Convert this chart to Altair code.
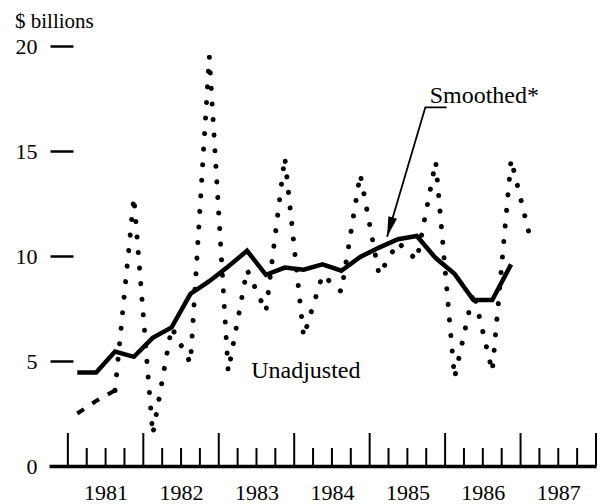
import altair as alt
import pandas as pd

FONT = "Liberation Serif"

# ---- data ----
quarters = [
    "1981Q1", "1981Q2", "1981Q3", "1981Q4",
    "1982Q1", "1982Q2", "1982Q3", "1982Q4",
    "1983Q1", "1983Q2", "1983Q3", "1983Q4",
    "1984Q1", "1984Q2", "1984Q3", "1984Q4",
    "1985Q1", "1985Q2", "1985Q3", "1985Q4",
    "1986Q1", "1986Q2", "1986Q3", "1986Q4",
    "1987Q1",
]
unadjusted = [2.5, 3.1, 3.6, 12.8, 1.5, 6.6, 4.9, 19.5, 4.5, 9.35, 7.35, 14.7,
              6.15, 9.1, 8.3, 13.9, 9.1, 10.65, 9.8, 14.5, 4.2, 8.3, 4.5, 14.6,
              10.9]
smoothed = [4.45, 4.45, 5.45, 5.2, 6.1, 6.6, 8.2, 8.8, 9.5, 10.25, 9.1, 9.45,
            9.35, 9.6, 9.3, 9.95, 10.4, 10.8, 10.95, 9.9, 9.15, 7.9, 7.9, 9.6]
dashed_quarters = 3          # first quarters drawn as a dashed (estimated) line

year_labels = [1981, 1982, 1983, 1984, 1985, 1986, 1987]
year_ticks = [1981, 1982, 1983, 1984, 1985, 1986, 1987, 1988]
y_ticks = [0, 5, 10, 15, 20]

unadj_label = "Unadjusted"
smooth_label = "Smoothed*"
unit_label = "$ billions"


def qpos(label):
    return int(label[:4]) + (int(label[-1]) - 0.5) / 4


unadj_df = pd.DataFrame({"x": [qpos(q) for q in quarters], "v": unadjusted})
dashed_df = unadj_df.iloc[:dashed_quarters]
dotted_df = unadj_df.iloc[dashed_quarters - 1:]
smooth_df = pd.DataFrame({"x": [qpos(q) for q in quarters[:len(smoothed)]],
                          "v": smoothed})
tall_df = pd.DataFrame({"x": year_ticks})
short_df = pd.DataFrame({"x": [y + q / 4 for y in year_ticks[:-1] for q in (1, 2, 3)]})

# annotation anchors (data units)
text_df = pd.DataFrame({"x": [1983.43, 1985.795], "v": [4.18, 17.27],
                        "t": [unadj_label, smooth_label]})
leader_df = pd.DataFrame({"x": [1986.02, 1985.738, 1985.231],
                          "v": [17.08, 17.08, 10.92], "o": [0, 1, 2]})
arrow_df = pd.DataFrame({"x": [1985.268], "v": [11.376]})

# ---- scales / axes ----
xscale = alt.Scale(domain=[1980.75, 1988.0], nice=False, zero=False)
yscale = alt.Scale(domain=[0, 20], nice=False, zero=False)

xaxis = alt.Axis(values=[y + 0.5 for y in year_labels], labelExpr="floor(datum.value)",
                 ticks=False, tickSize=0, grid=False, title=None,
                 domain=True, domainColor="black", domainWidth=3.5,
                 labelFont=FONT, labelFontSize=22, labelColor="black",
                 labelPadding=16, labelBaseline="top", labelFlush=False)
yaxis = alt.Axis(values=y_ticks, grid=False, domain=False, title=None,
                 tickSize=23, tickWidth=2.5, tickColor="black", offset=-24,
                 labelPadding=13, labelFont=FONT, labelFontSize=22,
                 labelColor="black", labelBaseline="middle")

x_enc = alt.X("x:Q", scale=xscale, axis=xaxis)
y_enc = alt.Y("v:Q", scale=yscale, axis=yaxis)

tall = alt.Chart(tall_df).mark_rule(color="black", strokeWidth=2).encode(
    x=x_enc, y=alt.value(387), y2=alt.value(420))
short = alt.Chart(short_df).mark_rule(color="black", strokeWidth=2).encode(
    x=x_enc, y=alt.value(402), y2=alt.value(420))

dashed = alt.Chart(dashed_df).mark_line(
    color="black", strokeWidth=4, strokeDash=[8, 10]).encode(x=x_enc, y=y_enc)
dotted = alt.Chart(dotted_df).mark_line(
    color="black", strokeWidth=5, strokeDash=[0.1, 15.5], strokeCap="round").encode(
    x=x_enc, y=y_enc)
smooth = alt.Chart(smooth_df).mark_line(
    color="black", strokeWidth=4.5).encode(x=x_enc, y=y_enc)

leader = alt.Chart(leader_df).mark_line(color="black", strokeWidth=1.8).encode(
    x=x_enc, y=y_enc, order=alt.Order("o:Q"))
arrow = alt.Chart(arrow_df).mark_point(
    shape="M0,-1L0.45,1L-0.45,1Z", size=400, angle=196.5, filled=True,
    color="black", opacity=1, strokeWidth=0).encode(x=x_enc, y=y_enc)

labels = alt.Chart(text_df).mark_text(
    align="left", baseline="alphabetic", font=FONT, fontSize=24, color="black").encode(
    x=x_enc, y=y_enc, text="t:N")

unit = alt.Chart(pd.DataFrame({"t": [unit_label]})).mark_text(
    align="left", baseline="alphabetic", font=FONT, fontSize=21, color="black").encode(
    x=alt.value(-34), y=alt.value(-18.5), text="t:N")

chart = alt.layer(tall, short, dashed, dotted, smooth, leader, arrow, labels, unit).properties(
    width=547, height=420,
    autosize=alt.AutoSizeParams(type="none"),
    padding={"left": 41, "top": 38, "right": 1, "bottom": 38},
    background="white",
).configure_view(stroke=None)

chart.save("out.html", embed_options={"renderer": "svg", "actions": False})
